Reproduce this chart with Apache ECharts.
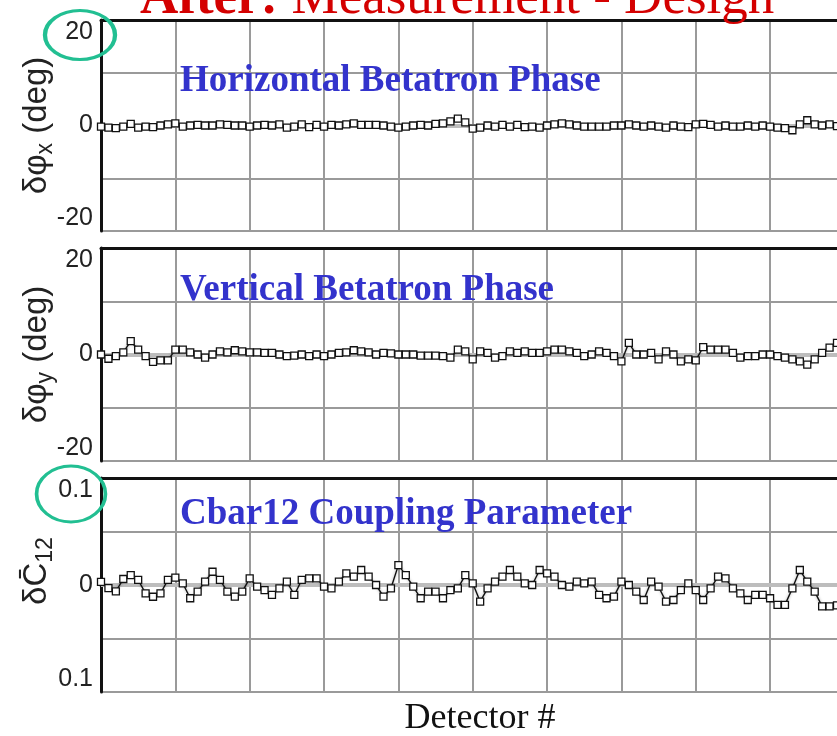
<!DOCTYPE html>
<html>
<head>
<meta charset="utf-8">
<script src="https://cdn.jsdelivr.net/npm/echarts@6/dist/echarts.min.js"></script>
<style>
  html, body { margin: 0; padding: 0; background: #fff; }
  #chart { width: 837px; height: 736px; }
</style>
</head>
<body>
<div id="chart"></div>
<script>
const phaseX = [
  -0.2, -0.4, -0.5, -0.2, 0.3, -0.4, -0.2, -0.3, 0, 0.2,
  0.4, -0.2, 0, 0.1, 0, 0, 0.2, 0.1, 0, 0,
  -0.2, 0, 0.1, 0, 0.2, -0.4, -0.2, 0.2, -0.3, 0.1,
  -0.2, 0.1, 0, 0.2, 0.4, 0.1, 0.1, 0.1, 0, -0.2,
  -0.4, -0.2, 0, 0.1, 0, 0.3, 0.4, 0.8, 1.3, 0.6,
  -0.6, -0.4, 0, -0.2, 0.1, -0.2, 0.1, -0.3, -0.2, -0.4,
  0, 0.2, 0.4, 0.2, 0, -0.2, -0.2, -0.2, -0.2, 0,
  0, 0.2, 0, -0.2, 0, -0.2, -0.4, 0, -0.2, -0.3,
  0.2, 0.3, 0.1, -0.2, 0, -0.2, -0.2, 0, -0.2, 0,
  -0.2, -0.4, -0.5, -0.9, 0.2, 1.0, 0.2, 0, 0.2, -0.1
]
const phaseY = [
  0, -0.8, -0.3, 0.4, 2.5, 0.9, -0.3, -1.4, -1.1, -1.1,
  0.9, 0.9, 0.4, 0, -0.6, 0, 0.6, 0.4, 0.8, 0.6,
  0.4, 0.4, 0.3, 0.3, 0, -0.3, -0.2, 0, -0.3, 0,
  -0.3, 0, 0.3, 0.4, 0.8, 0.6, 0.4, 0, 0.3, 0.2,
  0, 0, 0, -0.2, -0.2, -0.2, -0.3, -0.6, 0.9, 0.6,
  -0.9, 0.6, 0.3, -0.6, -0.3, 0.6, 0.3, 0.6, 0.3, 0.3,
  0.6, 0.9, 0.9, 0.6, 0.3, -0.3, 0, 0.6, 0.3, -0.3,
  -1.3, 2.2, 0, 0, 0.3, -0.9, 0.6, 0, -1.3, -0.9,
  -1.1, 1.4, 0.9, 0.9, 0.9, 0.3, -0.6, -0.3, -0.3, 0,
  0, -0.3, -0.6, -0.9, -1.3, -1.9, -0.9, 0.3, 1.3, 2.2
]
const cbar12 = [
  0.003, -0.003, -0.006, 0.0056, 0.0093, 0.0047, -0.0078, -0.011, -0.0078, 0.0047,
  0.0068, 0.0016, -0.0124, -0.0062, 0.0031, 0.0124, 0.0047, -0.0062, -0.0109, -0.0062,
  0.0062, -0.0016, -0.0047, -0.0093, -0.0031, 0.0031, -0.0093, 0.0047, 0.0062, 0.0062,
  -0.0016, -0.0031, 0.0031, 0.0109, 0.0078, 0.014, 0.0078, 0, -0.0109, -0.0031,
  0.0186, 0.0093, -0.0016, -0.0124, -0.0062, -0.0062, -0.0124, -0.0047, -0.0031, 0.0093,
  0.0016, -0.0155, -0.0031, 0.0031, 0.0078, 0.014, 0.0078, 0.0016, 0, 0.014,
  0.0109, 0.0078, 0, -0.0016, 0.0031, 0.0016, 0.0031, -0.0093, -0.0124, -0.0109,
  0.0031, 0, -0.0062, -0.014, 0.0031, -0.0016, -0.0155, -0.014, -0.0047, 0.0016,
  -0.0047, -0.014, -0.0031, 0.0078, 0.0062, -0.0031, -0.0078, -0.014, -0.0093, -0.0093,
  -0.0124, -0.0186, -0.0186, -0.0031, 0.014, 0.0031, -0.0062, -0.02, -0.02, -0.019
]
const detectors = phaseX.map((v, i) => i)
const degTicks = [-20, 0, 20]
const cTicks = ['0.1', '0', '0.1']

const chart = echarts.init(document.getElementById('chart'))

const sans = 'Liberation Sans'
const serif = 'Liberation Serif'
const blue = '#3333cc'
const ring = '#22bf92'
const edge = { lineStyle: { color: '#111', width: 3 } }

// bottom axis carries the grid lines, top one only draws the frame edge
function xAx(i) {
  return {
    gridIndex: i,
    type: 'value',
    min: 0,
    max: 99,
    interval: 10,
    axisLine: edge,
    axisTick: { show: false },
    axisLabel: { show: false },
    splitLine: { showMaxLine: false, lineStyle: { color: '#9a9a9a', width: 2 } }
  }
}
function xTop(i) {
  return {
    gridIndex: i,
    type: 'value',
    position: 'top',
    min: 0,
    max: 99,
    axisLine: edge,
    axisTick: { show: false },
    axisLabel: { show: false },
    splitLine: { show: false }
  }
}

function yAx(i, min, max, interval, fmt, name, pad) {
  return {
    gridIndex: i,
    type: 'value',
    min: min,
    max: max,
    interval: interval,
    axisLine: edge,
    axisTick: { show: false },
    splitLine: { lineStyle: { color: '#9a9a9a', width: 2 } },
    axisLabel: {
      color: '#222',
      fontFamily: sans,
      fontSize: 25,
      margin: 8,
      verticalAlignMaxLabel: 'top',
      verticalAlignMinLabel: 'bottom',
      formatter: fmt
    },
    name: name,
    nameLocation: 'middle',
    nameRotate: 90,
    nameGap: 44,
    nameMoveOverlap: false,
    nameTextStyle: {
      color: '#222',
      fontFamily: sans,
      padding: pad,
      rich: {
        m: { fontSize: 33, fontFamily: sans, color: '#222', lineHeight: 40, verticalAlign: 'middle' },
        s: { fontSize: 23, fontFamily: sans, color: '#222', lineHeight: 22, verticalAlign: 'bottom' }
      }
    }
  }
}

function degFmt(v) {
  return degTicks.indexOf(v) >= 0 ? String(v) : ''
}
function cFmt(v) {
  if (Math.abs(v / 0.1 - Math.round(v / 0.1)) > 1e-6) return ''
  return cTicks[Math.round(v / 0.1) + 1] || ''
}

function line(i, arr) {
  return {
    type: 'line',
    xAxisIndex: i * 2,
    yAxisIndex: i,
    data: detectors.map((d, k) => [d, arr[k]]),
    symbol: 'rect',
    symbolSize: 7,
    showAllSymbol: true,
    itemStyle: { color: '#fff', borderColor: '#111', borderWidth: 1.3 },
    lineStyle: { color: '#111', width: 1.4, shadowColor: 'rgba(0,0,0,0.35)', shadowBlur: 3 },
    markLine: {
      silent: true,
      symbol: 'none',
      label: { show: false },
      lineStyle: { color: '#bdbdbd', width: 4, type: 'solid' },
      data: [{ yAxis: 0 }],
      z: 1
    },
    z: 3
  }
}

chart.setOption({
  animation: false,
  grid: [
    { left: 101, right: 0, top: 20, height: 211 },
    { left: 101, right: 0, top: 248, height: 213 },
    { left: 101, right: 0, top: 478, height: 214 }
  ],
  xAxis: [xAx(0), xTop(0), xAx(1), xTop(1), xAx(2), xTop(2)],
  yAxis: [
    yAx(0, -20, 20, 10, degFmt, '{m|δφ}{s|x}{m| (deg)}', [0, 0, 0, 0]),
    yAx(1, -20, 20, 10, degFmt, '{m|δφ}{s|y}{m| (deg)}', [0, 0, 0, 0]),
    yAx(2, -0.1, 0.1, 0.05, cFmt, '{m|δC\u0304}{s|12}', [0, 0, 0, 28])
  ],
  series: [line(0, phaseX), line(1, phaseY), line(2, cbar12)],
  graphic: [
    {
      type: 'text', x: 140, y: -1, z: 10,
      style: {
        text: '{b|After:}{r| Measurement - Design}',
        verticalAlign: 'middle',
        rich: {
          b: { fontFamily: serif, fontSize: 53, fontWeight: 'bold', fill: '#d40000' },
          r: { fontFamily: serif, fontSize: 53, fill: '#d40000' }
        }
      }
    },
    { type: 'text', x: 180, y: 81, z: 10, style: { text: 'Horizontal Betatron Phase', fontFamily: serif, fontSize: 37, fontWeight: 'bold', fill: blue, verticalAlign: 'middle' } },
    { type: 'text', x: 180, y: 290, z: 10, style: { text: 'Vertical Betatron Phase', fontFamily: serif, fontSize: 37, fontWeight: 'bold', fill: blue, verticalAlign: 'middle' } },
    { type: 'text', x: 180, y: 514, z: 10, style: { text: 'Cbar12 Coupling Parameter', fontFamily: serif, fontSize: 37, fontWeight: 'bold', fill: blue, verticalAlign: 'middle' } },
    { type: 'text', x: 480, y: 719, z: 10, style: { text: 'Detector #', fontFamily: serif, fontSize: 36, fill: '#111', align: 'center', verticalAlign: 'middle' } },
    { type: 'circle', x: 80, y: 35, scaleX: 1.43, z: 10, shape: { cx: 0, cy: 0, r: 24.5 }, style: { fill: 'none', stroke: ring, lineWidth: 3 } },
    { type: 'circle', x: 71, y: 494, scaleX: 1.23, z: 10, shape: { cx: 0, cy: 0, r: 28 }, style: { fill: 'none', stroke: ring, lineWidth: 3 } }
  ]
})
</script>
</body>
</html>
